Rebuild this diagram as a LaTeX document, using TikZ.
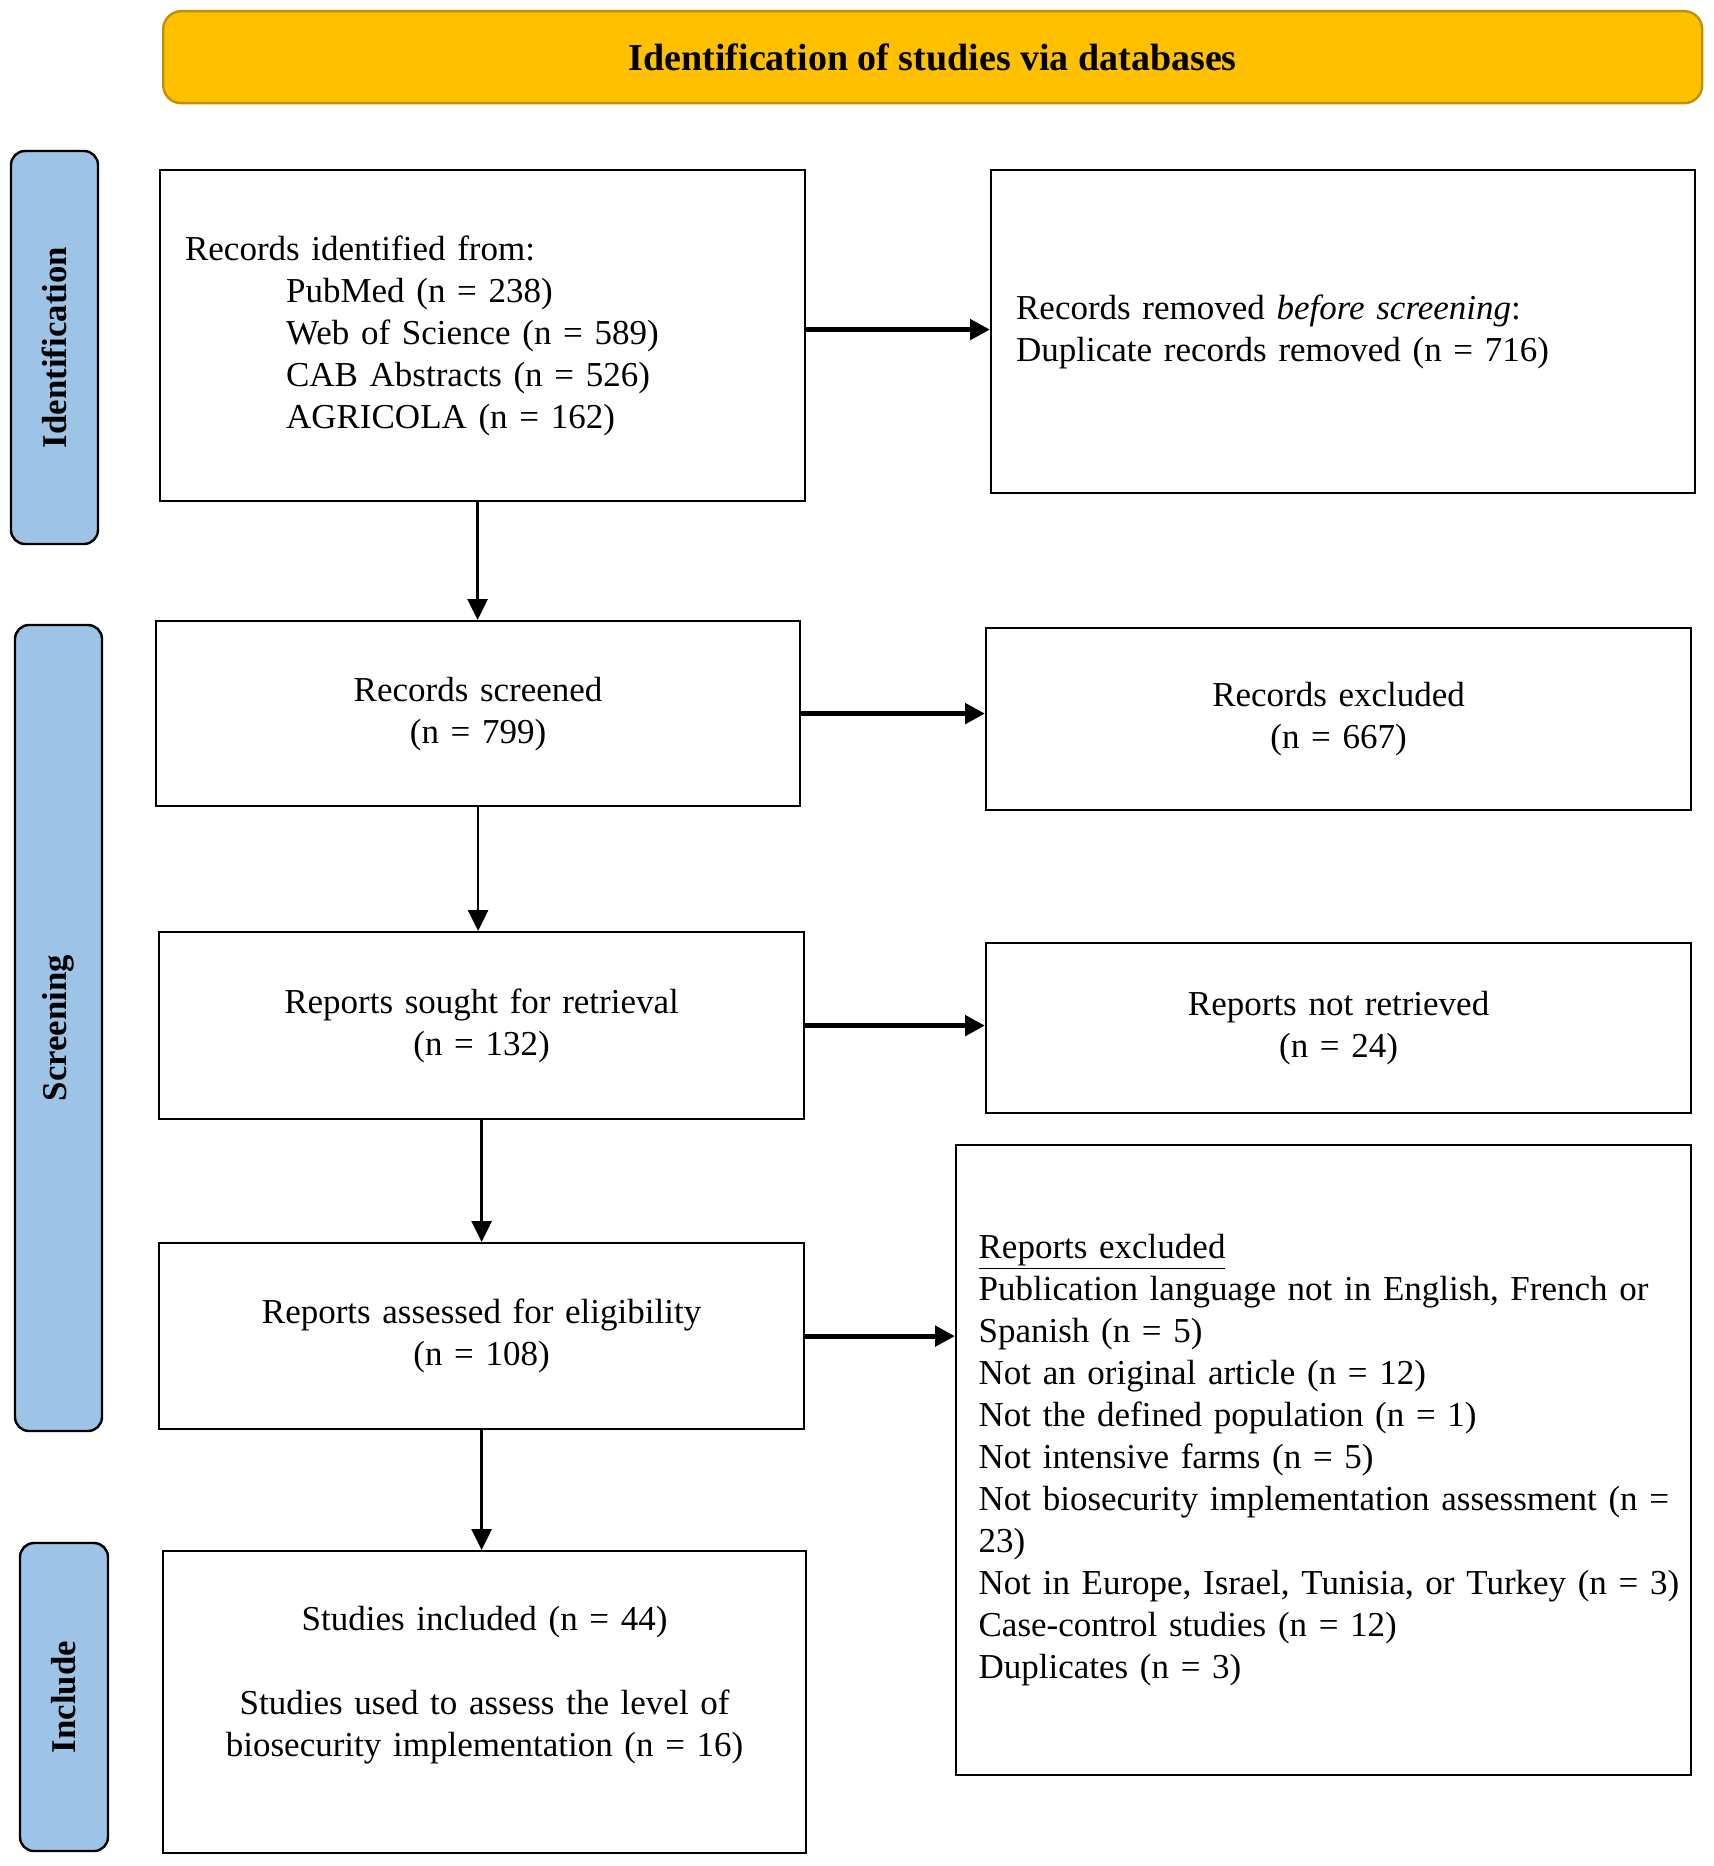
\documentclass[tikz,border=0pt]{standalone}
\usepackage{fontspec}
\setmainfont{Liberation Serif}
\usetikzlibrary{arrows.meta}
\definecolor{headyellow}{HTML}{FFC000}
\definecolor{headgold}{HTML}{BF9000}
\definecolor{barblue}{HTML}{9DC3E6}
\newcommand\boxfont{\fontsize{17.5}{21}\selectfont\spaceskip=0.19em plus 0.08em minus 0.04em\relax}
\tikzset{
	flowbox/.style={draw, line width=1.1pt, rectangle, anchor=north west, inner xsep=12.5pt, inner ysep=0pt, font=\boxfont},
	phasebar/.style={draw, line width=1.2pt, fill=barblue, rounded corners=7pt, rotate=90, inner sep=0pt, font=\fontsize{17.4}{20}\selectfont\bfseries},
	sidearrow/.style={line width=2.5pt, -{Triangle[length=10pt,width=10pt]}},
	downarrow/.style={line width=1.35pt, -{Triangle[length=10.5pt,width=10pt]}},
}
\begin{document}
\begin{tikzpicture}[x=0.5pt,y=-0.5pt]
				\useasboundingbox (0,0) rectangle (1713,1866);

				\node[draw=headgold, fill=headyellow, line width=1.2pt, rounded corners=9pt, anchor=north west, minimum width=769.5pt, minimum height=46pt, font=\fontsize{19}{23}\selectfont\bfseries] (head) at (162,10) {Identification of studies via databases};

				\node[phasebar, minimum width=196.5pt, minimum height=43.5pt] (idbar) at (54.5,347.5) {Identification};
				\node[phasebar, minimum width=403pt, minimum height=43.5pt] (scrbar) at (58.5,1028) {Screening};
				\node[phasebar, minimum width=154pt, minimum height=44pt] (incbar) at (64,1697) {Include};

				\node[flowbox, minimum width=322.5pt, minimum height=165.5pt, text width=297.5pt, align=left] (ident) at (159,169) {Records identified from:\\
					\hspace*{50.5pt}PubMed (n = 238)\\
					\hspace*{50.5pt}Web of Science (n = 589)\\
					\hspace*{50.5pt}CAB Abstracts (n = 526)\\
					\hspace*{50.5pt}AGRICOLA (n = 162)};
				\node[flowbox, minimum width=352pt, minimum height=161.5pt, text width=327pt, align=left] (removed) at (990,169) {Records removed \textit{before screening}:\\
					Duplicate records removed (n = 716)};

				\node[flowbox, minimum width=322pt, minimum height=92.5pt, text width=297pt, align=center] (screened) at (155,620) {Records screened\\(n = 799)};
				\node[flowbox, minimum width=352.5pt, minimum height=91pt, text width=327.5pt, align=center] (recexcl) at (985,627) {Records excluded\\(n = 667)};

				\node[flowbox, minimum width=322.5pt, minimum height=93.5pt, text width=297.5pt, align=center] (sought) at (158,931) {Reports sought for retrieval\\(n = 132)};
				\node[flowbox, minimum width=352.5pt, minimum height=85pt, text width=327.5pt, align=center] (notret) at (985,942) {Reports not retrieved\\(n = 24)};

				\node[flowbox, minimum width=322.5pt, minimum height=93pt, text width=297.5pt, align=center] (assessed) at (158,1242) {Reports assessed for eligibility\\(n = 108)};
				\node[flowbox, minimum width=367.5pt, minimum height=315pt, inner xsep=11.25pt, text width=345pt, align=left] (repexcl) at (955,1144) {\underline{Reports excluded}\\
					Publication language not in English, French or\\
					Spanish (n = 5)\\
					Not an original article (n = 12)\\
					Not the defined population (n = 1)\\
					Not intensive farms (n = 5)\\
					\mbox{Not biosecurity implementation assessment (n =}\\
					23)\\
					\mbox{Not in Europe, Israel, Tunisia, or Turkey (n = 3)}\\
					Case-control studies (n = 12)\\
					Duplicates (n = 3)};

				\node[flowbox, minimum width=321.5pt, minimum height=151pt, text width=296.5pt, align=center] (included) at (162,1550) {Studies included (n = 44)\\[21pt]
					Studies used to assess the level of\\
					biosecurity implementation (n = 16)\\
					\mbox{}};

				\draw[sidearrow] ([yshift=3pt]ident.east) -- ([yshift=3pt]ident.east -| removed.west);
				\draw[sidearrow] (screened.east) -- (screened.east -| recexcl.west);
				\draw[sidearrow] (sought.east) -- (sought.east -| notret.west);
				\draw[sidearrow] (assessed.east) -- (assessed.east -| repexcl.west);

				\draw[downarrow] ([xshift=-2.5pt]ident.south) -- ([xshift=-2.5pt]ident.south |- screened.north);
				\draw[downarrow] (screened.south) -- (screened.south |- sought.north);
				\draw[downarrow] (sought.south) -- (sought.south |- assessed.north);
				\draw[downarrow] (assessed.south) -- (assessed.south |- included.north);
			\end{tikzpicture}
\end{document}
